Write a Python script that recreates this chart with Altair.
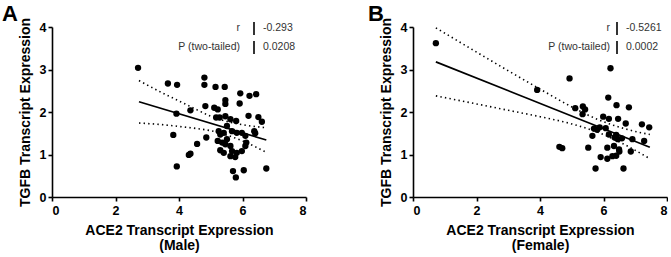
import altair as alt
import pandas as pd

FONT = "Liberation Sans"

# ---------------- data ----------------
a_x = [2.71, 3.65, 3.94, 3.92, 3.82, 3.93, 4.36, 4.31, 4.36, 4.57, 4.80, 4.80, 4.83, 4.86,
       5.15, 5.11, 5.22, 5.17, 5.28, 5.44, 5.46, 5.46, 5.46, 5.62, 5.80, 5.93, 5.91, 6.22,
       6.43, 6.19, 6.50, 6.61, 5.25, 5.30, 5.41, 5.51, 5.67, 5.82, 5.98, 6.09, 6.37, 5.22,
       5.36, 5.51, 5.62, 5.46, 5.30, 5.41, 6.09, 5.98, 5.82, 5.67, 5.62, 5.77, 5.70, 5.79,
       6.04, 6.75, 6.12, 6.40]
a_y = [3.04, 2.67, 2.64, 1.96, 1.46, 0.72, 2.04, 0.99, 1.02, 1.25, 2.81, 2.64, 2.14, 1.40,
       2.59, 2.10, 2.06, 1.87, 1.87, 2.59, 2.28, 2.19, 1.90, 1.83, 1.79, 2.44, 2.20, 2.38,
       2.42, 1.91, 1.88, 1.77, 1.55, 1.47, 1.51, 1.67, 1.55, 1.51, 1.51, 1.44, 1.55, 1.32,
       1.28, 1.36, 1.20, 1.24, 1.10, 1.04, 1.20, 1.08, 1.04, 1.08, 0.96, 0.94, 0.61, 0.46,
       0.63, 0.67, 1.28, 1.50]

b_x = [0.72, 3.91, 4.93, 6.22, 5.11, 5.35, 5.42, 5.34, 4.61, 4.70, 5.52, 6.15, 6.41, 6.80,
       5.99, 6.17, 6.46, 6.70, 7.21, 7.44, 5.70, 5.88, 6.07, 5.65, 6.17, 6.35, 6.45, 6.58,
       6.91, 7.28, 6.12, 6.33, 6.49, 6.86, 5.91, 6.12, 6.28, 5.75, 6.63, 6.40, 5.80, 6.50,
       6.40]
b_y = [3.62, 2.52, 2.79, 3.03, 2.09, 2.13, 2.06, 1.95, 1.18, 1.15, 1.16, 2.34, 2.16, 2.11,
       1.89, 1.84, 1.84, 1.73, 1.71, 1.64, 1.61, 1.64, 1.62, 1.44, 1.47, 1.40, 1.36, 1.38,
       1.36, 1.32, 1.16, 1.20, 1.12, 1.07, 0.94, 0.90, 0.96, 0.67, 0.67, 1.46, 1.58, 1.07,
       0.97]

# regression lines and 95% confidence bands
a_fit_x = [2.74, 6.75]
a_fit_y = [2.24, 1.34]
a_band_x = [2.74, 3.5, 4.0, 4.57, 5.0, 5.4, 6.0, 6.75]
a_upper = [2.74, 2.44, 2.26, 2.05, 1.90, 1.80, 1.70, 1.63]
a_lower = [1.74, 1.70, 1.66, 1.61, 1.56, 1.48, 1.32, 1.05]

b_fit_x = [0.72, 7.46]
b_fit_y = [3.18, 1.17]
b_band_x = [0.72, 2.0, 3.0, 4.0, 5.0, 5.9, 6.7, 7.46]
b_upper = [3.98, 3.41, 2.97, 2.54, 2.12, 1.80, 1.60, 1.47]
b_lower = [2.38, 2.19, 2.04, 1.89, 1.72, 1.50, 1.22, 0.90]

stat_labels = ["r", "P (two-tailed)"]
a_stats = ["-0.293", "0.0208"]
b_stats = ["-0.5261", "0.0002"]

x_ticks = [0, 2, 4, 6, 8]
y_ticks = [0, 1, 2, 3, 4]

W, H = 254, 170


def panel(px, py, fx, fy, bx, bu, bl, letter, letter_x, group, stats, lab_x, bar_x, val_x):
    xenc = alt.X("x:Q", scale=alt.Scale(domain=[0, 8], nice=False),
                 axis=alt.Axis(values=x_ticks, title=["ACE2 Transcript Expression", f"({group})"]))
    yenc = alt.Y("y:Q", scale=alt.Scale(domain=[0, 4], nice=False),
                 axis=alt.Axis(values=y_ticks, title="TGFB Transcript Expression"))

    pts = alt.Chart(pd.DataFrame({"x": px, "y": py})).mark_circle(
        size=40, color="black", opacity=1).encode(x=xenc, y=yenc)
    fit = alt.Chart(pd.DataFrame({"x": fx, "y": fy})).mark_line(
        color="black", strokeWidth=1.7).encode(x=xenc, y=yenc)
    up = alt.Chart(pd.DataFrame({"x": bx, "y": bu})).mark_line(
        color="black", strokeWidth=1.6, strokeDash=[1.4, 3.2], interpolate="monotone").encode(x=xenc, y=yenc)
    lo = alt.Chart(pd.DataFrame({"x": bx, "y": bl})).mark_line(
        color="black", strokeWidth=1.6, strokeDash=[1.4, 3.2], interpolate="monotone").encode(x=xenc, y=yenc)

    one = alt.Data(values=[{}])
    layers = [up, lo, fit, pts]
    row_y = [1, 20]
    for i in range(2):
        layers.append(alt.Chart(one).mark_text(
            align="right", baseline="middle", font=FONT, fontSize=10.5, color="#333333").encode(
            x=alt.value(lab_x), y=alt.value(row_y[i]), text=alt.value(stat_labels[i])))
        layers.append(alt.Chart(one).mark_text(
            align="left", baseline="middle", font=FONT, fontSize=10.5, color="#333333").encode(
            x=alt.value(val_x), y=alt.value(row_y[i]), text=alt.value(stats[i])))
        layers.append(alt.Chart(one).mark_rule(color="black", strokeWidth=1.6).encode(
            x=alt.value(bar_x), y=alt.value(row_y[i] - 6), y2=alt.value(row_y[i] + 7)))
    layers.append(alt.Chart(one).mark_text(
        align="left", baseline="top", font=FONT, fontSize=22, fontWeight="bold",
        color="black").encode(x=alt.value(letter_x), y=alt.value(-23), text=alt.value(letter)))
    return alt.layer(*layers).properties(width=W, height=H)


pa = panel(a_x, a_y, a_fit_x, a_fit_y, a_band_x, a_upper, a_lower, "A", -50, "Male",
           a_stats, 188, 202, 211)
pb = panel(b_x, b_y, b_fit_x, b_fit_y, b_band_x, b_upper, b_lower, "B", -45, "Female",
           b_stats, 197, 204, 213)

chart = alt.hconcat(pa, pb, spacing=61).properties(
    padding={"left": 2, "top": 3, "right": 0, "bottom": 0}
).configure_axis(
    grid=False, domainColor="black", domainWidth=1.6, tickColor="black", tickWidth=1.6,
    tickSize=4, labelFont=FONT, labelFontSize=12.5, labelFontWeight="bold", labelColor="black",
    titleFont=FONT, titleFontSize=14, titleFontWeight="bold",
    titleColor="black", titleLineHeight=15
).configure_axisX(
    labelPadding=3, titlePadding=7
).configure_axisY(
    labelPadding=2, titlePadding=7
).configure_view(stroke=None)

chart.save("out.html", embed_options={"renderer": "svg", "actions": False})
